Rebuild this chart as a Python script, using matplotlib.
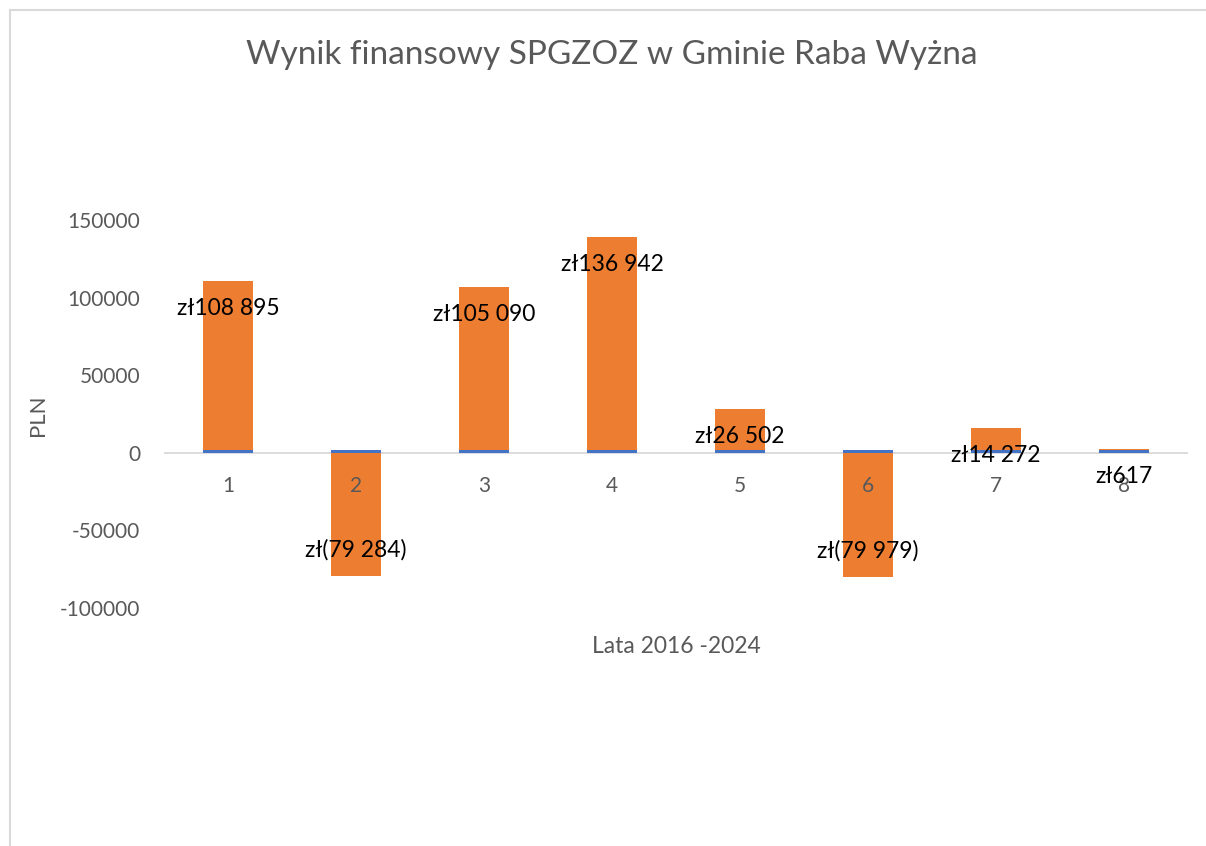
import numpy as np
import matplotlib
matplotlib.use("Agg")
import matplotlib.pyplot as plt
from matplotlib.lines import Line2D

categories = ["1", "2", "3", "4", "5", "6", "7", "8"]
years = [2016, 2017, 2018, 2019, 2020, 2021, 2022, 2023]
result = [108895, -79284, 105090, 136942, 26502, -79979, 14272, 617]
yticks = [-100000, -50000, 0, 50000, 100000, 150000]

blue = "#4472C4"
orange = "#ED7D31"
grey = "#595959"

plt.rcParams["font.family"] = ["Lato", "DejaVu Sans"]


def fmt(v):
    s = f"{abs(v):,}".replace(",", " ")
    return f"zł({s})" if v < 0 else f"zł{s}"


fig = plt.figure(figsize=(12.06, 8.46), dpi=100)
ax = fig.add_axes([164 / 1206, 1 - 608 / 846, 1024 / 1206, 388 / 846])

x = np.arange(len(categories))
yrs = np.array(years)
res = np.array(result)
w = 0.39

ax.bar(x, yrs, width=w, color=blue, zorder=2)
bottom = np.where(res > 0, yrs, 0)
ax.bar(x, res, width=w, bottom=bottom, color=orange, zorder=2)

# data labels, inside end of each bar
for xi, v, b in zip(x, res, bottom):
    end = v + b
    off = -20 if v > 0 else 19
    ax.annotate(fmt(v), (xi, end), xytext=(0, off), textcoords="offset points",
                ha="center", va="center", fontsize=16.5, color="black", zorder=4)

# category labels sit next to the zero line
for xi, c in zip(x, categories):
    ax.annotate(c, (xi, 0), xytext=(0, -24), textcoords="offset points",
                ha="center", va="center", fontsize=15, color=grey, zorder=3)

ax.axhline(0, color="#D9D9D9", lw=1.3, zorder=1)
ax.set_xlim(-0.5, len(categories) - 0.5)
ax.set_ylim(-100000, 150000)
ax.set_yticks(yticks)
ax.set_yticklabels([str(t) for t in yticks], fontsize=15, color=grey)
ax.tick_params(axis="y", length=0, pad=17)
ax.set_xticks([])
for sp in ax.spines.values():
    sp.set_visible(False)

fig.text(38 / 1206, 1 - 415 / 846, "PLN", rotation=90, ha="center", va="center",
         fontsize=16, color=grey)
fig.text(676 / 1206, 1 - 646 / 846, "Lata 2016 -2024", ha="center", va="center",
         fontsize=16.5, color=grey)
fig.text(612 / 1206, 1 - 55 / 846, "Wynik finansowy SPGZOZ w Gminie Raba Wyżna",
         ha="center", va="center", fontsize=24, color=grey)

# chart frame (cropped screenshot edge)
fig.add_artist(Line2D([10 / 1206, 10 / 1206], [0, 1 - 10 / 846], color="#D9D9D9",
                      lw=1.5, transform=fig.transFigure))
fig.add_artist(Line2D([10 / 1206, 1], [1 - 10 / 846, 1 - 10 / 846], color="#D9D9D9",
                      lw=1.5, transform=fig.transFigure))

fig.savefig("out.png", dpi=100)
